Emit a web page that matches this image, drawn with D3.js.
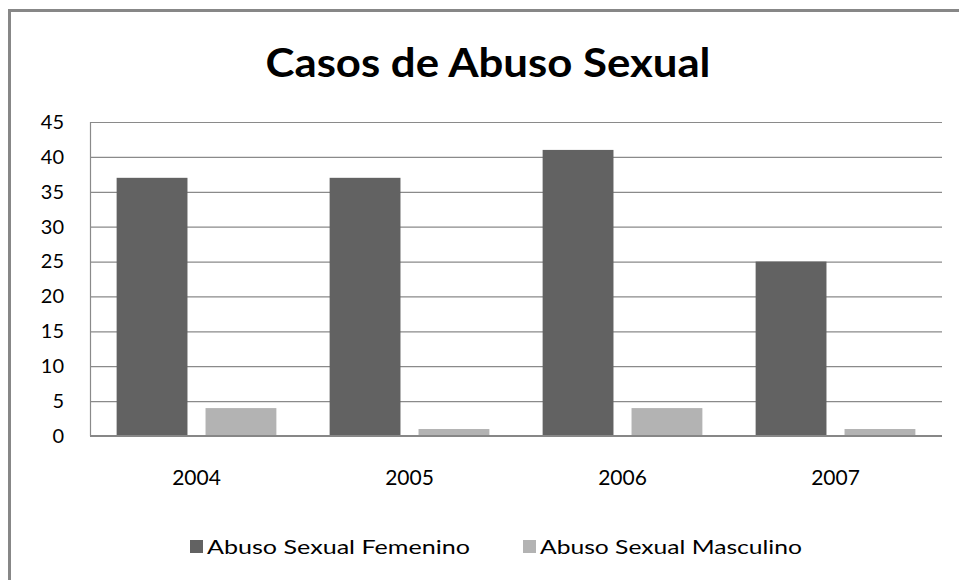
<!DOCTYPE html>
<html>
<head>
<meta charset="utf-8">
<script src="https://cdn.jsdelivr.net/npm/d3@7"></script>
<style>
  body { margin: 0; background: #fff; }
  text { font-family: Lato, "Open Sans", sans-serif; fill: #000; }
</style>
</head>
<body>
<div id="chart"></div>
<script>
// data
const years = ["2004", "2005", "2006", "2007"];
const femenino = [37, 37, 41, 25];
const masculino = [4, 1, 4, 1];
const seriesNames = ["Abuso Sexual Femenino", "Abuso Sexual Masculino"];
const yTicks = [0, 5, 10, 15, 20, 25, 30, 35, 40, 45];

const W = 959, H = 580;
const margin = { top: 122, right: 17, bottom: 144, left: 90 };
const width = W - margin.left - margin.right,
      height = H - margin.top - margin.bottom;
const colors = ["#626262", "#b3b3b3"];

const svg = d3.select("#chart")
    .append("svg")
    .attr("width", W)
    .attr("height", H);

// outer chart frame
svg.append("rect")
    .attr("x", 9.5).attr("y", 10.5)
    .attr("width", W + 20).attr("height", H + 20)
    .attr("fill", "none")
    .attr("stroke", "#878787")
    .attr("stroke-width", 3);

svg.append("text")
    .attr("x", 488)
    .attr("y", 77)
    .attr("text-anchor", "middle")
    .attr("font-size", 40)
    .attr("font-weight", "bold")
    .attr("textLength", 445)
    .attr("lengthAdjust", "spacingAndGlyphs")
    .text("Casos de Abuso Sexual");

const g = svg.append("g")
    .attr("transform", `translate(${margin.left},${margin.top})`);

const x0 = d3.scaleBand().domain(years).range([0, width]).paddingInner(0.25).paddingOuter(0.125);
const x1 = d3.scaleBand().domain([0, 1]).range([0, x0.bandwidth()]).paddingInner(0.203);
const y = d3.scaleLinear().domain([0, 45]).range([height, 0]);

// gridlines
g.append("g")
    .call(d3.axisLeft(y).tickValues(yTicks).tickSize(-width).tickFormat(""))
    .call(a => a.select(".domain").remove())
    .call(a => a.selectAll("line").attr("stroke", "#8a8a8a").attr("stroke-width", 1.2));

// left axis line
g.append("line")
    .attr("x1", 0.5).attr("x2", 0.5)
    .attr("y1", 0).attr("y2", height)
    .attr("stroke", "#8a8a8a").attr("stroke-width", 1.2);

// y labels
g.append("g")
    .call(d3.axisLeft(y).tickValues(yTicks).tickSize(0).tickPadding(26))
    .call(a => a.select(".domain").remove())
    .call(a => a.selectAll("text").attr("font-size", 20).attr("font-family", "Lato, sans-serif").attr("fill", "#000"));

// bars
const groups = g.selectAll(".year")
    .data(years)
    .join("g")
    .attr("class", "year")
    .attr("transform", d => `translate(${x0(d)},0)`);

groups.selectAll("rect")
    .data((d, i) => [femenino[i], masculino[i]])
    .join("rect")
    .attr("x", (d, j) => x1(j))
    .attr("width", x1.bandwidth())
    .attr("y", d => y(d))
    .attr("height", d => height - y(d))
    .attr("fill", (d, j) => colors[j]);

// baseline
g.append("line")
    .attr("x1", 0).attr("x2", width)
    .attr("y1", height).attr("y2", height)
    .attr("stroke", "#878787").attr("stroke-width", 2);

// x labels
g.append("g")
    .attr("transform", `translate(0,${height})`)
    .call(d3.axisBottom(x0).tickSize(0).tickPadding(34))
    .call(a => a.select(".domain").remove())
    .call(a => a.selectAll("text").attr("font-size", 21).attr("font-family", "Lato, sans-serif").attr("fill", "#000"));

// legend
const legendX = [190, 523];
const legend = svg.selectAll(".legend")
    .data(seriesNames)
    .join("g")
    .attr("class", "legend")
    .attr("transform", (d, i) => `translate(${legendX[i]},547)`);

legend.append("rect")
    .attr("x", 0).attr("y", -7)
    .attr("width", 13).attr("height", 13)
    .attr("fill", (d, i) => colors[i]);

legend.append("text")
    .attr("x", 17)
    .attr("y", 7)
    .attr("font-size", 20)
    .attr("textLength", (d, i) => i === 0 ? 263 : 262)
    .attr("lengthAdjust", "spacingAndGlyphs")
    .text(d => d);
</script>
</body>
</html>
